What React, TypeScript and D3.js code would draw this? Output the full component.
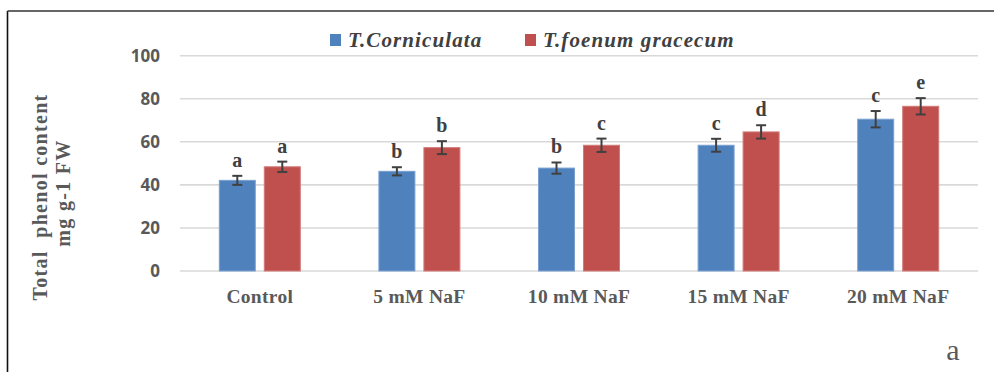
import React from "react";
import * as d3 from "d3";

const categories = ["Control", "5 mM NaF", "10 mM NaF", "15 mM NaF", "20 mM NaF"];
const seriesNames = ["T.Corniculata", "T.foenum gracecum"];
const corniculataValues = [42.1, 46.3, 47.8, 58.4, 70.5];
const foenumValues = [48.4, 57.3, 58.4, 64.6, 76.5];
const corniculataErrors = [2.1, 1.9, 2.6, 3.0, 3.8];
const foenumErrors = [2.4, 3.0, 3.1, 3.1, 3.8];
const corniculataLetters = ["a", "b", "b", "c", "c"];
const foenumLetters = ["a", "b", "c", "d", "e"];
const yTicks = [0, 20, 40, 60, 80, 100];

const W = 994;
const H = 372;
const colors = ["#4f81bd", "#c0504d"];
const strokes = ["#7aa0d0", "#d27a78"];

export default function App() {
  const x0 = d3.scaleBand<string>().domain(categories).range([180, 978]).padding(0);
  const x1 = d3.scaleBand<string>().domain(seriesNames).range([0, 81]).paddingInner(0.2);
  const y = d3.scaleLinear().domain([0, 100]).range([271, 55.7]);

  const series = [
    { name: seriesNames[0], values: corniculataValues, errors: corniculataErrors, letters: corniculataLetters },
    { name: seriesNames[1], values: foenumValues, errors: foenumErrors, letters: foenumLetters },
  ];

  const serif = "'Liberation Serif', 'Times New Roman', serif";
  const sans = "'Open Sans', sans-serif";

  return (
    <svg width={W} height={H} style={{ position: "absolute", left: 0, top: 0, background: "#fff" }}>
      {/* frame */}
      <line x1={7.5} x2={7.5} y1={11} y2={H} stroke="#111" strokeWidth={1.6} />
      <line x1={7.5} x2={W} y1={11} y2={11} stroke="#333" strokeWidth={1.6} />

      {/* gridlines and y tick labels */}
      {yTicks.map((t) => (
        <g key={t}>
          <line x1={180} x2={978} y1={y(t)} y2={y(t)} stroke="#d9d9d9" strokeWidth={1.6} />
          <text
            x={160}
            y={y(t)}
            dy="0.36em"
            textAnchor="end"
            fontFamily={sans}
            fontWeight={700}
            fontSize={17}
            fill="#595959"
          >
            {t}
          </text>
        </g>
      ))}

      {/* bars, error bars and letters */}
      {series.map((s, si) =>
        categories.map((c, ci) => {
          const bx = (x0(c) as number) + x0.bandwidth() / 2 - 40.5 + (x1(s.name) as number);
          const bw = x1.bandwidth();
          const v = s.values[ci];
          const e = s.errors[ci];
          const cx = bx + bw / 2;
          return (
            <g key={`${si}-${ci}`}>
              <rect x={bx} y={y(v)} width={bw} height={y(0) - y(v)} fill={colors[si]} stroke={strokes[si]} strokeWidth={1} />
              <line x1={cx} x2={cx} y1={y(v + e)} y2={y(v - e)} stroke="#404040" strokeWidth={2} />
              <line x1={cx - 5} x2={cx + 5} y1={y(v + e)} y2={y(v + e)} stroke="#404040" strokeWidth={2} />
              <line x1={cx - 5} x2={cx + 5} y1={y(v - e)} y2={y(v - e)} stroke="#404040" strokeWidth={2} />
              <text
                x={cx}
                y={y(v + e) - 9}
                textAnchor="middle"
                fontFamily={serif}
                fontWeight={700}
                fontSize={20}
                fill="#404040"
              >
                {s.letters[ci]}
              </text>
            </g>
          );
        })
      )}

      {/* x category labels */}
      {categories.map((c) => (
        <text
          key={c}
          x={(x0(c) as number) + x0.bandwidth() / 2}
          y={303}
          textAnchor="middle"
          fontFamily={serif}
          fontWeight={700}
          fontSize={19.5}
          letterSpacing={0.3}
          fill="#595959"
        >
          {c}
        </text>
      ))}

      {/* legend */}
      {seriesNames.map((n, i) => {
        const lx = [330, 525][i];
        return (
          <g key={n}>
            <rect x={lx} y={34} width={11} height={12} fill={colors[i]} />
            <text
              x={lx + 18}
              y={47}
              fontFamily={serif}
              fontStyle="italic"
              fontWeight={700}
              fontSize={21}
              letterSpacing={1.1}
              fill="#404040"
            >
              {n}
            </text>
          </g>
        );
      })}

      {/* y axis title */}
      <g transform="translate(47,197) rotate(-90)">
        <text textAnchor="middle" fontFamily={serif} fontWeight={700} fontSize={20} letterSpacing={1.3} fill="#595959" style={{ whiteSpace: "pre" }}>
          {"Total  phenol content"}
        </text>
      </g>
      <g transform="translate(69.5,193) rotate(-90)">
        <text textAnchor="middle" fontFamily={serif} fontWeight={700} fontSize={20} letterSpacing={1.3} fill="#595959">
          mg g-1 FW
        </text>
      </g>

      {/* panel letter */}
      <text x={953} y={360} textAnchor="middle" fontFamily={serif} fontSize={30} fill="#595959">
        a
      </text>
    </svg>
  );
}
